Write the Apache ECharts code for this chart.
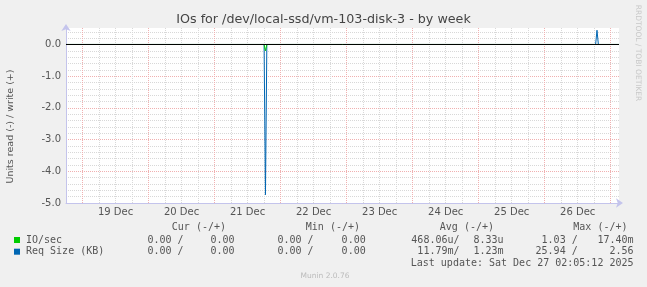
<!DOCTYPE html>
<html><head><meta charset="utf-8">
<script src="https://cdn.jsdelivr.net/npm/echarts@6/dist/echarts.min.js"></script>
<style>html,body{margin:0;padding:0;background:#f0f0f0;}#c{width:647px;height:287px;}</style>
</head><body><div id="c"></div>
<script>
const titleText = 'IOs for /dev/local-ssd/vm-103-disk-3 - by week';
const yAxisName = 'Units read (-) / write (+)';
const dayLabels = ['19 Dec','20 Dec','21 Dec','22 Dec','23 Dec','24 Dec','25 Dec','26 Dec'];
const yTickLabels = ['-5.0','-4.0','-3.0','-2.0','-1.0','0.0'];
// sample times (UTC) and values
const sampleTimes = ['2025-12-18T18:00:00Z','2025-12-21T18:00:00Z','2025-12-21T18:30:00Z','2025-12-21T19:00:00Z','2025-12-26T18:30:00Z','2025-12-26T19:00:00Z','2025-12-26T19:30:00Z','2025-12-27T03:00:00Z'];
const ioRead   = [0, 0, -0.2, 0, 0, 0, 0, 0];
const ioWrite  = [0, 0, 0, 0, 0, 0.017, 0, 0];
const reqRead  = [0, 0, -4.74, 0, 0, 0, 0, 0];
const reqWrite = [0, 0, 0, 0, 0, 0.45, 0, 0];
const zeroRuleTimes = ['2025-12-18T18:00:00Z','2025-12-27T03:00:00Z'];
const zeroRuleValues = [0, 0];
// legend table
const legendHeaders = ['Cur (-/+)','Min (-/+)','Avg (-/+)','Max (-/+)'];
const legendNames = ['IO/sec','Req Size (KB)'];
const legendColors = ['#00cc00','#0066b3'];
const curVals = [['0.00 /','0.00'],['0.00 /','0.00']];
const minVals = [['0.00 /','0.00'],['0.00 /','0.00']];
const avgVals = [['468.06u/','8.33u'],['11.79m/','1.23m']];
const maxVals = [['1.03 /','17.40m'],['25.94 /','2.56']];
const lastUpdate = 'Last update: Sat Dec 27 02:05:12 2025';
const footer = 'Munin 2.0.76';
const sideText = 'RRDTOOL / TOBI OETIKER';

const xMin = Date.UTC(2025,11,18,18,0,0);
const xMax = Date.UTC(2025,11,27,3,0,0);
const times = sampleTimes.map(s => Date.parse(s));
const pairs = arr => arr.map((v,i) => [times[i], v]);

const gray = '#d8d8d8', red = '#f0b0b0', axisCol = '#c4c4ec';
const mono = '10px "DejaVu Sans Mono"';
const txtCol = '#555';

const graphics = [];
graphics.push({type:'text', x:323.5, y:19.5, style:{text:titleText, font:'12.7px "DejaVu Sans"', fill:'#444', align:'center', verticalAlign:'middle'}});
graphics.push({type:'text', x:10.7, y:126.5, rotation:Math.PI/2, style:{text:yAxisName, font:'9.5px "DejaVu Sans"', fill:txtCol, align:'center', verticalAlign:'middle'}});
graphics.push({type:'text', x:637.7, y:53, rotation:-Math.PI/2, style:{text:sideText, font:'7.5px "DejaVu Sans"', fill:'#c8c8c8', align:'center', verticalAlign:'middle'}});
const hdrX = [226, 360, 494, 627.5];
legendHeaders.forEach((h,i) => graphics.push({type:'text', x:hdrX[i], y:227.5, style:{text:h, font:mono, fill:txtCol, align:'right', verticalAlign:'middle'}}));
const rowY = [240, 251.7];
const colEnds = [183.5, 234.5, 313.5, 365.7, 459.5, 503.5, 577.7, 633.5];
legendNames.forEach((n,r) => {
  graphics.push({type:'rect', shape:{x:14, y:rowY[r]-3, width:6, height:6}, style:{fill:legendColors[r]}});
  graphics.push({type:'text', x:26, y:rowY[r], style:{text:n, font:mono, fill:txtCol, align:'left', verticalAlign:'middle'}});
  const cells = [curVals[r][0],curVals[r][1],minVals[r][0],minVals[r][1],avgVals[r][0],avgVals[r][1],maxVals[r][0],maxVals[r][1]];
  cells.forEach((c,k) => graphics.push({type:'text', x:colEnds[k], y:rowY[r], style:{text:c, font:mono, fill:txtCol, align:'right', verticalAlign:'middle'}}));
});
graphics.push({type:'text', x:633.5, y:263.3, style:{text:lastUpdate, font:mono, fill:txtCol, align:'right', verticalAlign:'middle'}});
graphics.push({type:'text', x:325, y:276.5, style:{text:footer, font:'7.5px "DejaVu Sans"', fill:'#bbbbbb', align:'center', verticalAlign:'middle'}});

const chart = echarts.init(document.getElementById('c'), null, {renderer:'canvas'});
chart.setOption({
  animation:false,
  backgroundColor:'#f0f0f0',
  grid:{left:66, right:28, top:28, bottom:84, show:true, backgroundColor:'#ffffff', borderWidth:0, containLabel:false, outerBoundsMode:'none'},
  xAxis:{type:'value', min:xMin, max:xMax, interval:6*3600*1000,
    axisLine:{show:true, onZero:false, lineStyle:{color:axisCol, width:1}, symbol:['none','arrow'], symbolSize:[7,7], symbolOffset:[0,4]},
    axisTick:{show:false},
    axisLabel:{show:true, margin:4, color:txtCol, fontFamily:'DejaVu Sans', fontSize:10, showMinLabel:true, showMaxLabel:true,
      formatter:v => { const d = new Date(v); if (d.getUTCHours() === 12) { return dayLabels[d.getUTCDate()-19] || ''; } return ''; }},
    splitLine:{show:true, showMinLine:true, showMaxLine:false, lineStyle:{color:[gray, red, gray, gray], type:[1,1], width:1}}
  },
  yAxis:{type:'value', min:-5, max:0.52, interval:0.2,
    axisLine:{show:true, onZero:false, lineStyle:{color:axisCol, width:1}, symbol:['none','arrow'], symbolSize:[7,7], symbolOffset:[0,4]},
    axisTick:{show:false},
    axisLabel:{show:true, margin:5, color:txtCol, fontFamily:'DejaVu Sans', fontSize:10, showMinLabel:true, showMaxLabel:true,
      formatter:v => { const r = Math.round(v); if (Math.abs(v - r) < 1e-6 && r >= -5 && r <= 0) return yTickLabels[r+5]; return ''; }},
    splitLine:{show:true, showMinLine:true, showMaxLine:false, lineStyle:{color:[red, gray, gray, gray, gray], type:[1,1], width:1}}
  },
  series:[
    {name:'IO/sec read', type:'line', data:pairs(ioRead), showSymbol:false, symbol:'none', lineStyle:{color:'#00cc00', width:1}, z:3},
    {name:'IO/sec write', type:'line', data:pairs(ioWrite), showSymbol:false, symbol:'none', lineStyle:{color:'#00cc00', width:1}, z:3},
    {name:'Req Size read', type:'line', data:pairs(reqRead), showSymbol:false, symbol:'none', lineStyle:{color:'#0066b3', width:1}, z:2},
    {name:'Req Size write', type:'line', data:pairs(reqWrite), showSymbol:false, symbol:'none', lineStyle:{color:'#0066b3', width:1}, z:2},
    {name:'zero', type:'line', data:zeroRuleTimes.map((t,i) => [Date.parse(t), zeroRuleValues[i]]), showSymbol:false, symbol:'none', lineStyle:{color:'#000000', width:1}, z:10}
  ],
  graphic:graphics
});
</script></body></html>
